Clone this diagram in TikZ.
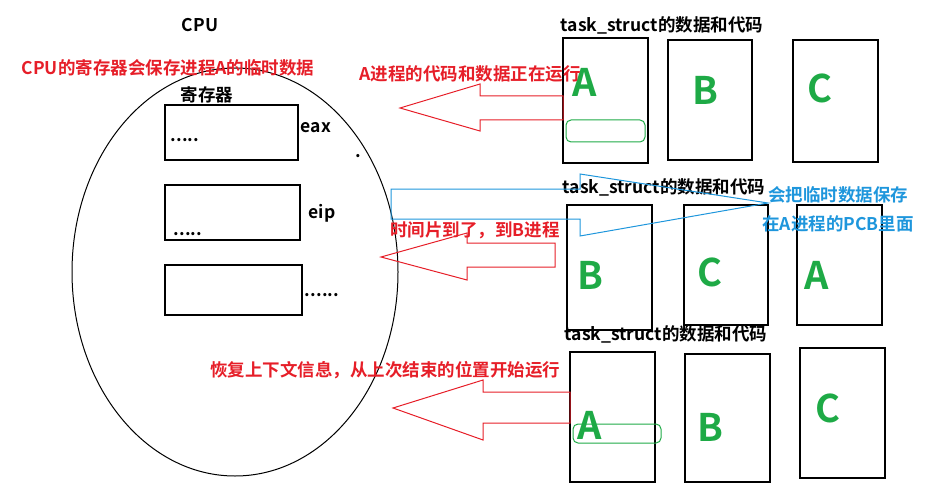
\documentclass[tikz,border=0pt]{standalone}
\usepackage{fontspec}
\setmainfont{Noto Sans CJK SC}[BoldFont={* Bold}]
\definecolor{rd}{RGB}{230,30,40}
\definecolor{bl}{RGB}{30,150,220}
\definecolor{gr}{RGB}{30,170,70}
\begin{document}
\begin{tikzpicture}[x=1pt,y=-1pt,
  box/.style={draw,line width=1.2pt},
  txt/.style={font=\bfseries\fontsize{17.5}{20}\selectfont},
  rt/.style={txt,text=rd},
  bt/.style={txt,text=bl},
  big/.style={font=\bfseries\fontsize{38}{40}\selectfont,text=gr},
  rarr/.style={draw=rd,line width=1pt},
  gbox/.style={draw=gr,rounded corners=5pt,line width=1pt}]
\useasboundingbox (0,0) rectangle (942,500);
\draw[line width=1pt] (235,272) ellipse [x radius=163, y radius=204];
\node[txt] (cpu) at (200,25) {CPU};
\node[rt] (t1) at (168,68) {CPU的寄存器会保存进程A的临时数据};
\node[txt] (reg) at (207,95) {寄存器};
\draw[box] (165,105) rectangle (298,160); \node[txt] (d1) at (185,140) {.....};
\draw[box] (165,185) rectangle (300,240); \node[txt] (d2) at (188,234) {.....};
\draw[box] (165,265) rectangle (302,315); \node[txt] (d3) at (322,295) {......};
\node[txt] (eax) at (316,128) {eax};
\node[txt] (eip) at (322,213) {eip};
\node[txt] (dot) at (358,156) {.};
% task boxes
\node[txt] (tsa) at (662,25) {task\_struct的数据和代码};
\node[txt] (tsb) at (664,187) {task\_struct的数据和代码};
\node[txt] (tsc) at (666,334) {task\_struct的数据和代码};
\draw[box] (563,38) rectangle (648,163); \node[big] (a1) at (585,82) {A};
\draw[box] (668,40) rectangle (752,160); \node[big] (b1) at (705,90) {B};
\draw[box] (793,40) rectangle (878,162); \node[big] (c1) at (820,88) {C};
\draw[box] (567,205) rectangle (652,330); \node[big] (b2) at (590,275) {B};
\draw[box] (684,205) rectangle (768,325); \node[big] (c2) at (710,272) {C};
\draw[box] (797,205) rectangle (882,325); \node[big] (a2) at (817,275) {A};
\draw[box] (570,352) rectangle (655,482); \node[big] (a3) at (590,425) {A};
\draw[box] (685,354) rectangle (770,482); \node[big] (b3) at (710,427) {B};
\draw[box] (800,348) rectangle (885,478); \node[big] (c3) at (828,408) {C};
\draw[gbox] (566,120) rectangle (645,142);
\draw[gbox] (573,424) rectangle (661,443);
% red arrows
\draw[rarr] (563,96) -- (480,96) -- (480,84) -- (400,108) -- (480,131) -- (480,120) -- (563,120) -- cycle;
\draw[rarr] (555,243) -- (467,243) -- (467,233) -- (381,257) -- (467,280) -- (467,267) -- (555,267) -- cycle;
\draw[rarr] (570,392) -- (483,392) -- (483,380) -- (393,408) -- (483,440) -- (483,423) -- (570,423) -- cycle;
\node[rt] (t2) at (470,74) {A进程的代码和数据正在运行};
\node[rt] (t3) at (475,230) {时间片到了，到B进程};
\node[rt] (t4) at (385,370) {恢复上下文信息，从上次结束的位置开始运行};
% blue arrow
\draw[bl,line width=1pt] (391,189) -- (580,189) -- (580,174) -- (768,203) -- (580,236) -- (580,219) -- (391,219) -- cycle;
\node[bt] (t5) at (838,195) {会把临时数据保存};
\node[bt] (t6) at (838,224) {在A进程的PCB里面};
\end{tikzpicture}
\end{document}
